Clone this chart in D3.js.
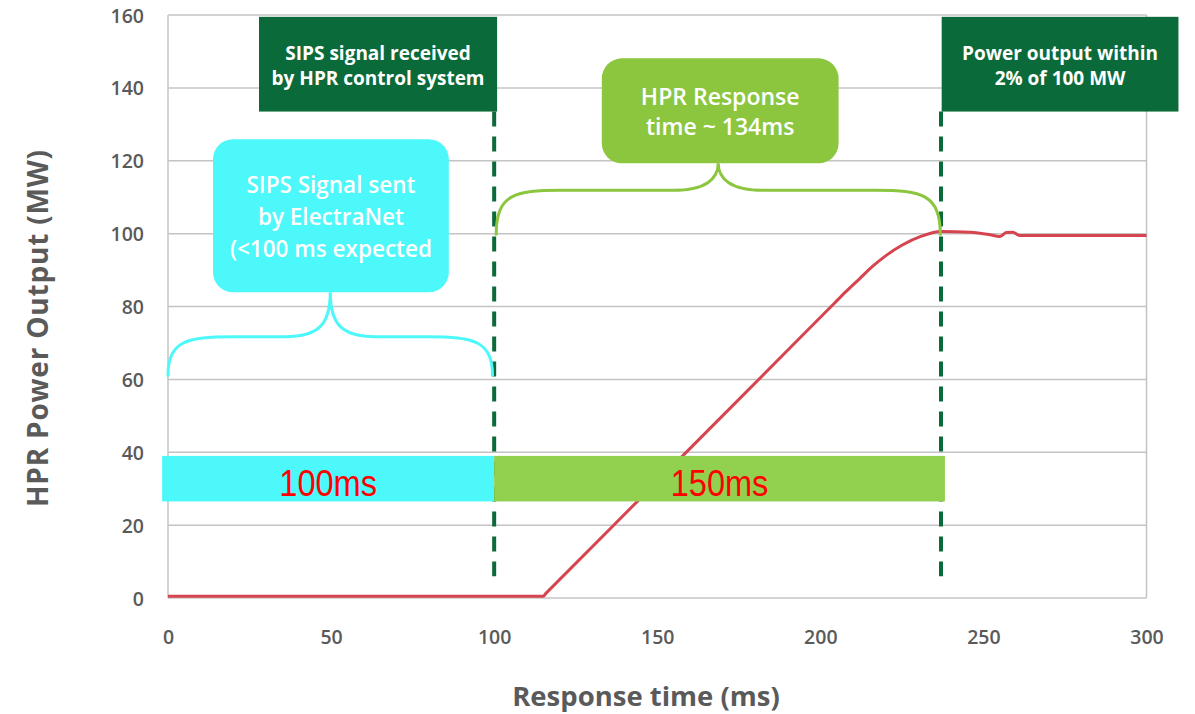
<!DOCTYPE html>
<html><head><meta charset="utf-8">
<script src="https://cdn.jsdelivr.net/npm/d3@7"></script>
<style>
html,body{margin:0;padding:0;background:#fff;}
svg{display:block;}
</style></head>
<body>
<svg id="chart" width="1195" height="714"></svg>
<script>
// ---------- data ----------
const xTicks = [0, 50, 100, 150, 200, 250, 300];
const yTicks = [0, 20, 40, 60, 80, 100, 120, 140, 160];
const xTitle = "Response time (ms)";
const yTitle = "HPR Power Output (MW)";

// HPR power output (ms, MW)
const powerTime  = [0, 115, 116, 160, 204, 208, 212, 216, 220, 225, 231, 237, 246, 252, 255, 257, 259, 261, 300];
const powerValue = [0.5, 0.5, 1.4, 41, 80.6, 84.2, 87.6, 91, 93.9, 96.8, 99.3, 100.6, 100.4, 99.7, 99.2, 100.3, 100.4, 99.5, 99.5];

// event markers (ms)
const markerTimes = [100, 237];
const markerTop = 133.5, markerBottom = 6;

// phase bars
const phaseLabels = ["100ms", "150ms"];
const phaseStart  = [-1.8, 100];
const phaseEnd    = [100, 238.2];
const phaseLow = 26.5, phaseHigh = 39;

// annotation boxes (data units)
const noteText = [
  ["SIPS signal received", "by HPR control system"],
  ["Power output within", "2% of 100 MW"],
  ["SIPS Signal sent", "by ElectraNet", "(<100 ms expected"],
  ["HPR Response", "time ~ 134ms"]
];
const noteX0 = [27.9, 237.2, 13.8, 133];
const noteX1 = [100.9, 309.8, 86.1, 205.6];
const noteY0 = [133.5, 133.5, 83.9, 119.3];
const noteY1 = [159.5, 159.5, 125.9, 148.1];

// braces: [start ms, end ms, end MW, flat MW, tip MW]
const braceStart = [0, 100.6];
const braceEnd   = [99.5, 236.8];
const braceEndY  = [60.8, 99.5];
const braceFlatY = [71.7, 111.9];
const braceTipY  = [83.9, 119.3];

// ---------- drawing ----------
const svg = d3.select("#chart");
const x = d3.scaleLinear().domain([0, 300]).range([168, 1146.5]);
const y = d3.scaleLinear().domain([0, 160]).range([598, 15]);

const gridColor = "#c4c4c4";
const tickColor = "#5a5a5a";
const cyan = "#4df8fb", lime = "#8cc63f", dark = "#0b6a39";
const font = "'Open Sans', 'DejaVu Sans', sans-serif";

// gridlines
svg.append("g").selectAll("line").data(yTicks).join("line")
  .attr("x1", x(0)).attr("x2", x(300))
  .attr("y1", d => y(d)).attr("y2", d => y(d))
  .attr("stroke", gridColor).attr("stroke-width", 1.5);
svg.append("g").selectAll("line").data([0, 300]).join("line")
  .attr("x1", d => x(d)).attr("x2", d => x(d))
  .attr("y1", y(0)).attr("y2", y(160))
  .attr("stroke", gridColor).attr("stroke-width", 1.5);

// y axis labels
const yAxis = d3.axisLeft(y).tickValues(yTicks).tickSize(0).tickPadding(0);
const yg = svg.append("g").attr("transform", `translate(${x(0) - 24},0)`).call(yAxis);
yg.select(".domain").remove();
yg.selectAll("text").attr("font-family", font).attr("font-size", 19.5)
  .attr("font-weight", 600).attr("fill", tickColor).attr("dy", "0.36em");

// x axis labels
const xAxis = d3.axisBottom(x).tickValues(xTicks).tickSize(0).tickPadding(0);
const xg = svg.append("g").attr("transform", `translate(0,${y(0) + 32})`).call(xAxis);
xg.select(".domain").remove();
xg.selectAll("text").attr("font-family", font).attr("font-size", 19.5)
  .attr("font-weight", 600).attr("fill", tickColor).attr("dy", "0.7em");

// axis titles
svg.append("text").text(xTitle)
  .attr("x", 646).attr("y", 706).attr("text-anchor", "middle")
  .attr("font-family", font).attr("font-size", 27.5).attr("font-weight", 700).attr("fill", tickColor);
svg.append("text").text(yTitle)
  .attr("transform", "translate(48,328) rotate(-90)").attr("text-anchor", "middle")
  .attr("font-family", font).attr("font-size", 28).attr("font-weight", 700)
  .attr("letter-spacing", 0.8).attr("fill", tickColor);

// power line
const powerData = powerTime.map((t, i) => [t, powerValue[i]]);
svg.append("path").datum(powerData)
  .attr("d", d3.line().x(d => x(d[0])).y(d => y(d[1])).curve(d3.curveMonotoneX))
  .attr("fill", "none").attr("stroke", "#d5444f").attr("stroke-width", 3);

// dashed markers
svg.append("g").selectAll("line").data(markerTimes).join("line")
  .attr("x1", d => x(d)).attr("x2", d => x(d))
  .attr("y1", y(markerTop)).attr("y2", y(markerBottom))
  .attr("stroke", dark).attr("stroke-width", 4).attr("stroke-dasharray", "15,10");

// phase bars
const phaseColors = [cyan, "#92d050"];
const phases = phaseLabels.map((l, i) => ({label: l, s: phaseStart[i], e: phaseEnd[i], c: phaseColors[i]}));
svg.append("g").selectAll("rect").data(phases).join("rect")
  .attr("x", d => x(d.s)).attr("width", d => x(d.e) - x(d.s))
  .attr("y", y(phaseHigh)).attr("height", y(phaseLow) - y(phaseHigh))
  .attr("fill", d => d.c);
svg.append("g").selectAll("text").data(phases).join("text")
  .text(d => d.label)
  .attr("transform", d => `translate(${(x(d.s) + x(d.e)) / 2},${(y(phaseHigh) + y(phaseLow)) / 2 + 4}) scale(0.88,1)`)
  .attr("dy", "0.36em")
  .attr("text-anchor", "middle")
  .attr("font-family", "'Liberation Sans', Arial, sans-serif")
  .attr("font-size", 37).attr("fill", "#ff0000");

// braces
const braceColors = [cyan, lime];
braceStart.forEach((s, i) => {
  const x0 = x(s), x1 = x(braceEnd[i]), xc = (x0 + x1) / 2;
  const ye = y(braceEndY[i]), yf = y(braceFlatY[i]), yt = y(braceTipY[i]);
  const p = d3.path();
  p.moveTo(x0, ye);
  p.bezierCurveTo(x0, yf + 4, x0 + 18, yf, x0 + 65, yf);
  p.lineTo(xc - 45, yf);
  p.bezierCurveTo(xc - 12, yf, xc, yf - 12, xc, yt);
  p.bezierCurveTo(xc, yf - 12, xc + 12, yf, xc + 45, yf);
  p.lineTo(x1 - 65, yf);
  p.bezierCurveTo(x1 - 18, yf, x1, yf + 4, x1, ye);
  svg.append("path").attr("d", p.toString())
    .attr("fill", "none").attr("stroke", braceColors[i]).attr("stroke-width", 3);
});

// annotation boxes
const noteFill = [dark, dark, cyan, lime];
const noteRadius = [0, 0, 20, 20];
const noteSize = [19, 19, 22.5, 23];
const noteWeight = [700, 700, 600, 600];
const noteLineH = [25, 25, 32, 30];
noteText.forEach((lines, i) => {
  const bx = x(noteX0[i]), bw = x(noteX1[i]) - x(noteX0[i]);
  const by = y(noteY1[i]), bh = y(noteY0[i]) - y(noteY1[i]);
  svg.append("rect").attr("x", bx).attr("y", by).attr("width", bw).attr("height", bh)
    .attr("rx", noteRadius[i]).attr("fill", noteFill[i]);
  const cx = bx + bw / 2, cy = by + bh / 2;
  const t = svg.append("text").attr("text-anchor", "middle")
    .attr("font-family", font).attr("font-size", noteSize[i]).attr("font-weight", noteWeight[i]).attr("fill", "#fff");
  lines.forEach((ln, j) => {
    t.append("tspan").text(ln).attr("x", cx)
      .attr("y", cy + (j - (lines.length - 1) / 2) * noteLineH[i] + 1).attr("dy", "0.36em");
  });
});
</script>
</body></html>
